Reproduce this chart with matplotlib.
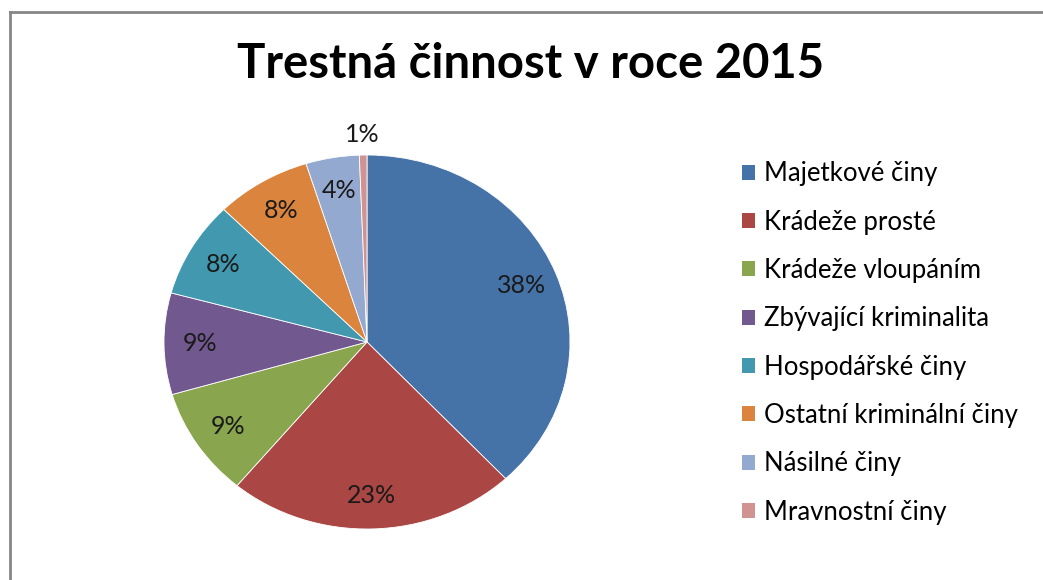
import numpy as np
import matplotlib
matplotlib.use('Agg')
import matplotlib.pyplot as plt
from matplotlib.lines import Line2D
from matplotlib.patches import Patch

plt.rcParams['font.family'] = ['Lato', 'DejaVu Sans']

categories = ['Majetkové činy', 'Krádeže prosté', 'Krádeže vloupáním',
              'Zbývající kriminalita', 'Hospodářské činy',
              'Ostatní kriminální činy', 'Násilné činy', 'Mravnostní činy']
shares = [38.0, 23.0, 9.4, 8.75, 8.3, 7.6, 4.25, 0.6]
colors = ['#4572a7', '#aa4643', '#89a54e', '#71588f', '#4198af',
          '#db843d', '#93a9cf', '#d19392']

fig = plt.figure(figsize=[10.43, 5.80], dpi=100)
W, H = 1043, 580

# pie area: centre (367, 342), radii 203 x 187 px
cx, cy, rx, ry = 367, 342, 203, 187
ax = fig.add_axes([(cx - rx) / W, 1 - (cy + ry) / H, 2 * rx / W, 2 * ry / H])

wedges, _ = ax.pie(shares, colors=colors, startangle=90, counterclock=False,
                   radius=1.0, wedgeprops=dict(linewidth=0.6, edgecolor='white'))
ax.set_aspect('auto')
ax.set_xlim(-1, 1)
ax.set_ylim(-1, 1)

total = sum(shares)
for i, w in enumerate(wedges):
    mid = np.deg2rad((w.theta1 + w.theta2) / 2)
    r = 1.11 if i == len(wedges) - 1 else 0.82
    ax.text(r * np.cos(mid), r * np.sin(mid), f'{shares[i] / total * 100:.0f}%',
            ha='center', va='center', fontsize=18, color='#1a1a1a')

fig.text(531 / W, 1 - 64 / H, 'Trestná činnost v roce 2015', ha='center',
         va='center', fontsize=34, fontweight='bold')

handles = [Patch(facecolor=c, edgecolor='none') for c in colors]
fig.legend(handles, categories, loc='upper left',
           bbox_to_anchor=(719 / W, 1 - 138 / H), frameon=False,
           fontsize=18.5, handlelength=0.52, handleheight=0.52,
           handletextpad=0.33, labelspacing=0.91)

# chart border (top and left edges only visible)
fig.add_artist(Line2D([9.5 / W, 1], [1 - 12 / H, 1 - 12 / H], color='#868686', lw=2))
fig.add_artist(Line2D([9.5 / W, 9.5 / W], [0, 1 - 12 / H], color='#868686', lw=2))

fig.savefig('out.png', dpi=100)
